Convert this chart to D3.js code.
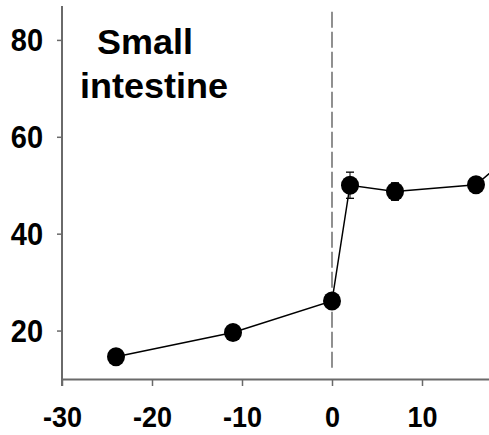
<!DOCTYPE html>
<html>
<head>
<meta charset="utf-8">
<script src="https://cdn.jsdelivr.net/npm/d3@7"></script>
<style>
  body { margin: 0; background: #fff; }
  svg { display: block; font-family: Arial, "Liberation Sans", sans-serif; font-weight: bold; }
</style>
</head>
<body>
<svg id="chart" width="489" height="435"></svg>
<script>
// data
var days    = [-24, -11, 0, 2, 7, 16, 24];
var values  = [14.6, 19.6, 26.1, 50.0, 48.7, 50.1, 62.6];
var errors  = [0, 0, 0.4, 2.7, 1.8, 0.5, 0];
var xTicks  = [-30, -20, -10, 0, 10];
var yTicks  = [20, 40, 60, 80];
var title   = ['Small', 'intestine'];

var svg = d3.select('#chart');

var x = d3.scaleLinear().domain([-30, 20]).range([62, 512]);
var y = d3.scaleLinear().domain([10, 87]).range([379, 6]);

var axisColor = '#6a6a6a';
var plain = function(d){ return String(d); };   // hyphen minus, like the original

// x axis
var xAxis = svg.append('g')
    .attr('transform', 'translate(0,' + y(10) + ')')
    .call(d3.axisBottom(x).tickValues(xTicks).tickFormat(plain)
        .tickSize(7).tickSizeOuter(0).tickPadding(0));
xAxis.select('.domain').attr('stroke', axisColor).attr('stroke-width', 2);
xAxis.selectAll('.tick line').attr('stroke', axisColor).attr('stroke-width', 1.5);
xAxis.selectAll('.tick text')
    .attr('fill', '#000')
    .attr('dy', null)
    .attr('y', 0)
    .attr('transform', 'translate(0,48) scale(1,1.1)')
    .style('font-size', '27px')
    .attr('font-weight', 'bold');

// y axis
var yAxis = svg.append('g')
    .attr('transform', 'translate(' + x(-30) + ',0)')
    .call(d3.axisLeft(y).tickValues(yTicks).tickFormat(plain)
        .tickSize(5).tickSizeOuter(0).tickPadding(0));
yAxis.select('.domain').attr('stroke', axisColor).attr('stroke-width', 2)
    .attr('d', 'M0,' + y(87) + 'V' + (y(10) + 7));
yAxis.selectAll('.tick line').attr('stroke', axisColor).attr('stroke-width', 1.5);
yAxis.selectAll('.tick text')
    .attr('fill', '#000')
    .attr('x', 0)
    .attr('dy', null)
    .attr('transform', 'translate(-19,11) scale(1,1.08)')
    .style('font-size', '29px')
    .attr('font-weight', 'bold');

// dashed line at day 0
svg.append('line')
    .attr('x1', x(0)).attr('x2', x(0))
    .attr('y1', y(85.8)).attr('y2', y(11.8))
    .attr('stroke', '#555')
    .attr('stroke-width', 1.3)
    .attr('stroke-dasharray', '16,4');

var pts = days.map(function(d, i){ return {x: d, y: values[i], e: errors[i]}; });

// connecting line
svg.append('path')
    .datum(pts)
    .attr('fill', 'none')
    .attr('stroke', '#000')
    .attr('stroke-width', 1.5)
    .attr('d', d3.line().x(function(d){ return x(d.x); }).y(function(d){ return y(d.y); }));

// error bars
var eb = svg.append('g').selectAll('g')
    .data(pts.filter(function(d){ return d.e > 0; }))
    .enter().append('g');
eb.append('line')
    .attr('x1', function(d){ return x(d.x); }).attr('x2', function(d){ return x(d.x); })
    .attr('y1', function(d){ return y(d.y + d.e); }).attr('y2', function(d){ return y(d.y - d.e); })
    .attr('stroke', '#000').attr('stroke-width', 1);
eb.selectAll('line.cap')
    .data(function(d){ return [d.y + d.e, d.y - d.e].map(function(v){ return {x: d.x, v: v}; }); })
    .enter().append('line')
    .attr('class', 'cap')
    .attr('x1', function(d){ return x(d.x) - 4; }).attr('x2', function(d){ return x(d.x) + 4; })
    .attr('y1', function(d){ return y(d.v); }).attr('y2', function(d){ return y(d.v); })
    .attr('stroke', '#000').attr('stroke-width', 1.3);

// markers
svg.append('g').selectAll('ellipse')
    .data(pts)
    .enter().append('ellipse')
    .attr('cx', function(d){ return x(d.x); })
    .attr('cy', function(d){ return y(d.y); })
    .attr('rx', 9)
    .attr('ry', 9.5)
    .attr('fill', '#000');

// panel title
var t = svg.append('g').attr('transform', 'translate(0,4) scale(1,0.96)')
    .style('font-size', '36px');
t.append('text').attr('x', 97).attr('y', 52).text(title[0]);
t.append('text').attr('x', 80).attr('y', 98).text(title[1]);
</script>
</body>
</html>
